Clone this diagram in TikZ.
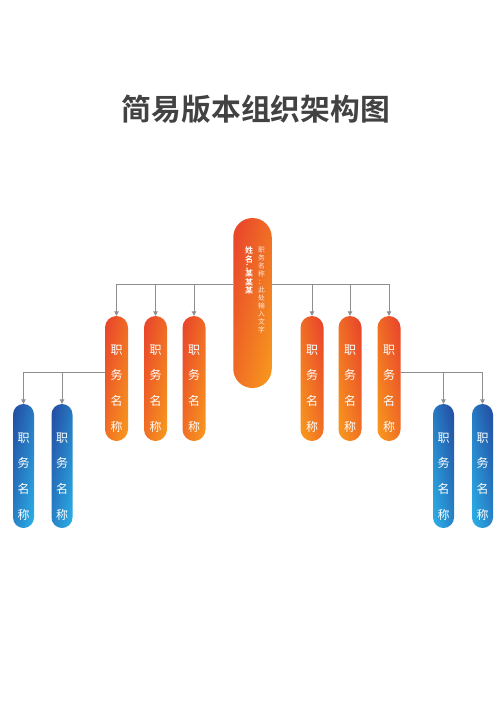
\documentclass[tikz,border=0pt]{standalone}
\usepackage{fontspec}
\newfontfamily\cjk{Noto Sans CJK SC}
\newfontfamily\cjkbold{Noto Sans CJK SC Bold}
\usetikzlibrary{arrows.meta}
\definecolor{ored}{HTML}{E9482B}
\definecolor{oorg}{HTML}{F7941E}
\definecolor{bdark}{HTML}{2452A6}
\definecolor{blight}{HTML}{2AA9E2}
\definecolor{connc}{HTML}{8E8E8E}
\definecolor{titlegrey}{HTML}{424242}
\tikzset{
  pill/.style={rectangle, rounded corners=#1, minimum width=2*#1, inner sep=0pt, draw=none},
  orangeL/.style={pill=11.5, minimum height=125, top color=ored, bottom color=oorg, shading angle=78},
  orangeR/.style={pill=11.5, minimum height=125, top color=ored, bottom color=oorg, shading angle=-78},
  blueL/.style={pill=10.5, minimum height=124, top color=bdark, bottom color=blight, shading angle=78},
  blueR/.style={pill=10.5, minimum height=124, top color=bdark, bottom color=blight, shading angle=-78},
  mainbox/.style={pill=19.25, minimum height=170, top color=ored, bottom color=oorg, shading angle=77},
  vtext/.style={font=\cjk\fontsize{12}{25.7}\selectfont, text=white, align=center, inner sep=0pt},
  link/.style={draw=connc, line width=0.9pt, -{Triangle[length=4.5pt,width=4.5pt]}},
}
\begin{document}
\begin{tikzpicture}[x=1pt,y=-1pt]
\fill[white] (0,0) rectangle (500,707);
\useasboundingbox (0,0) rectangle (500,707);

\node[font=\cjkbold\fontsize{29.8}{30}\selectfont, text=titlegrey, inner sep=0pt] (title) at (256,109) {简易版本组织架构图};

% main node
\node[mainbox] (m) at (252.5,303) {};
\node[font=\cjkbold\fontsize{8}{7.4}\selectfont, text=white, align=center, inner sep=0pt, anchor=north] (mname) at (249,246.5) {姓\\名\\：\\某\\某\\某};
\node[font=\cjk\fontsize{6.8}{8}\selectfont, text=white, opacity=0.85, align=center, inner sep=0pt, anchor=north] (mpos) at (261.5,246.5) {职\\务\\名\\称\\：\\此\\处\\输\\入\\文\\字};

% level 2
\node[orangeL] (o1) at (116.5,378.5) {};
\node[orangeL] (o2) at (155.5,378.5) {};
\node[orangeL] (o3) at (194,378.5) {};
\node[orangeR] (o4) at (312,378.5) {};
\node[orangeR] (o5) at (350,378.5) {};
\node[orangeR] (o6) at (389,378.5) {};
\foreach \n/\x in {1/116.5,2/155.5,3/194,4/312,5/350,6/389}
  \node[vtext] (t\n) at (\x,388.5) {职\\务\\名\\称};

% level 3
\node[blueL] (b1) at (23.5,466) {};
\node[blueL] (b2) at (62,466) {};
\node[blueR] (b3) at (443.5,466) {};
\node[blueR] (b4) at (482.5,466) {};
\foreach \n/\x in {1/23.5,2/62,3/443.5,4/482.5}
  \node[vtext] (u\n) at (\x,476.5) {职\\务\\名\\称};

% connectors
\coordinate (brow) at (0,284);
\coordinate (lrow) at (0,372.5);
\draw[link] (m.west |- brow) -| (o1.north);
\draw[link] (m.west |- brow) -| (o2.north);
\draw[link] (m.west |- brow) -| (o3.north);
\draw[link] (m.east |- brow) -| (o4.north);
\draw[link] (m.east |- brow) -| (o5.north);
\draw[link] (m.east |- brow) -| (o6.north);
\draw[link] (o1.west |- lrow) -| (b1.north);
\draw[link] (o1.west |- lrow) -| (b2.north);
\draw[link] (o6.east |- lrow) -| (b3.north);
\draw[link] (o6.east |- lrow) -| (b4.north);
\end{tikzpicture}
\end{document}
